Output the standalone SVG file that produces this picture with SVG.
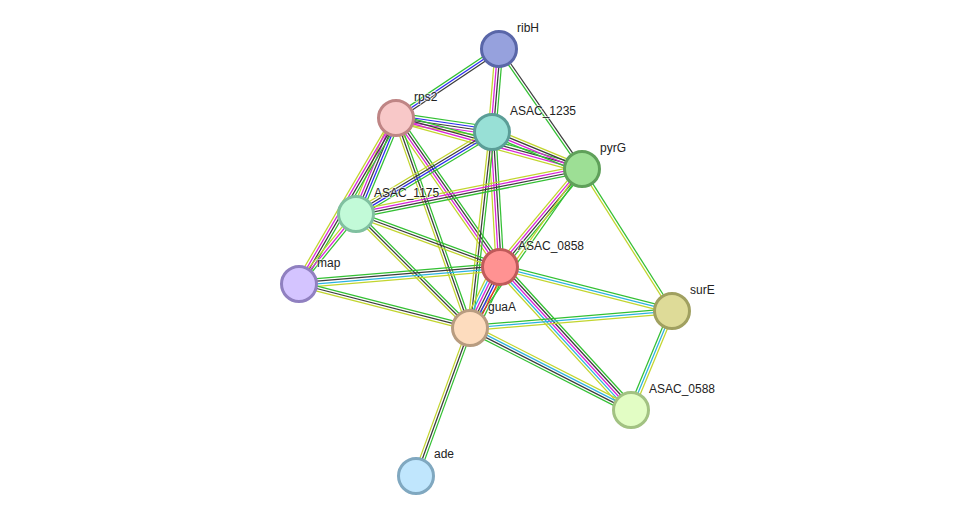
<svg xmlns="http://www.w3.org/2000/svg" width="975" height="521" viewBox="0 0 975 521">
<style>
line{stroke-width:1.25;fill:none;vector-effect:non-scaling-stroke}
.G{stroke:#33c033}.K{stroke:#3c3c3c}.Y{stroke:#c2d52e}.M{stroke:#d823d8}.B{stroke:#2a2af0}.C{stroke:#2cb2e0}.R{stroke:#e62222}
circle{stroke-width:3}
text{font-family:"Liberation Sans",Arial,sans-serif;font-size:12px;fill:#222;stroke:#fff;stroke-width:2;stroke-opacity:0.55;paint-order:stroke}
</style>
<rect width="975" height="521" fill="#fff"/>
<g id="edges">
<!-- ribH-rps2 -->
<g transform="translate(499 49) rotate(146.2) scale(1 1.15)"><line x2="124" y1="-2.2" y2="-2.2" class="K"/><line x2="124" class="B"/><line x2="124" y1="2.2" y2="2.2" class="G"/></g>
<!-- ribH-ASAC_1235 -->
<g transform="translate(499 49) rotate(94.8) scale(1 1.15)"><line x2="83.3" y1="-3.3" y2="-3.3" class="G"/><line x2="83.3" y1="-1.1" y2="-1.1" class="K"/><line x2="83.3" y1="1.1" y2="1.1" class="M"/><line x2="83.3" y1="3.3" y2="3.3" class="Y"/></g>
<!-- ribH-pyrG -->
<g transform="translate(499 49) rotate(55.3) scale(1 1.15)"><line x2="145.9" y1="-1.1" y2="-1.1" class="K"/><line x2="145.9" y1="1.1" y2="1.1" class="G"/></g>
<!-- rps2-ASAC_1235 -->
<g transform="translate(396 118) rotate(8.3) scale(1 1.15)"><line x2="97" y1="-4.4" y2="-4.4" class="G"/><line x2="97" y1="-2.2" y2="-2.2" class="B"/><line x2="97" class="K"/><line x2="97" y1="2.2" y2="2.2" class="M"/><line x2="97" y1="4.4" y2="4.4" class="Y"/></g>
<!-- rps2-pyrG -->
<g transform="translate(396 118) rotate(15.3) scale(1 1.15)"><line x2="192.9" y1="-3.3" y2="-3.3" class="G"/><line x2="192.9" y1="-1.1" y2="-1.1" class="K"/><line x2="192.9" y1="1.1" y2="1.1" class="M"/><line x2="192.9" y1="3.3" y2="3.3" class="Y"/></g>
<!-- rps2-ASAC_1175 -->
<g transform="translate(396 118) rotate(112.6) scale(1 1.15)"><line x2="104" y1="-4.4" y2="-4.4" class="G"/><line x2="104" y1="-2.2" y2="-2.2" class="B"/><line x2="104" class="K"/><line x2="104" y1="2.2" y2="2.2" class="M"/><line x2="104" y1="4.4" y2="4.4" class="Y"/></g>
<!-- rps2-map -->
<g transform="translate(396 118) rotate(120.3) scale(1 1.15)"><line x2="192.3" y1="-3.3" y2="-3.3" class="G"/><line x2="192.3" y1="-1.1" y2="-1.1" class="K"/><line x2="192.3" y1="1.1" y2="1.1" class="M"/><line x2="192.3" y1="3.3" y2="3.3" class="Y"/></g>
<!-- rps2-ASAC_0858 -->
<g transform="translate(396 118) rotate(55.1) scale(1 1.15)"><line x2="181.7" y1="-3.3" y2="-3.3" class="G"/><line x2="181.7" y1="-1.1" y2="-1.1" class="K"/><line x2="181.7" y1="1.1" y2="1.1" class="M"/><line x2="181.7" y1="3.3" y2="3.3" class="Y"/></g>
<!-- rps2-guaA -->
<g transform="translate(396 118) rotate(70.6) scale(1 1.15)"><line x2="222.7" y1="-2.2" y2="-2.2" class="G"/><line x2="222.7" class="K"/><line x2="222.7" y1="2.2" y2="2.2" class="Y"/></g>
<!-- ASAC_1235-ASAC_1175 -->
<g transform="translate(492 132) rotate(148.9) scale(1 1.15)"><line x2="158.8" y1="-3.3" y2="-3.3" class="G"/><line x2="158.8" y1="-1.1" y2="-1.1" class="B"/><line x2="158.8" y1="1.1" y2="1.1" class="K"/><line x2="158.8" y1="3.3" y2="3.3" class="Y"/></g>
<!-- ASAC_1235-pyrG -->
<g transform="translate(492 132) rotate(22.4) scale(1 1.15)"><line x2="97.3" y1="-3.3" y2="-3.3" class="Y"/><line x2="97.3" y1="-1.1" y2="-1.1" class="K"/><line x2="97.3" y1="1.1" y2="1.1" class="M"/><line x2="97.3" y1="3.3" y2="3.3" class="G"/></g>
<!-- ASAC_1235-ASAC_0858 -->
<g transform="translate(492 132) rotate(86.6) scale(1 1.15)"><line x2="135.2" y1="-3.3" y2="-3.3" class="G"/><line x2="135.2" y1="-1.1" y2="-1.1" class="K"/><line x2="135.2" y1="1.1" y2="1.1" class="M"/><line x2="135.2" y1="3.3" y2="3.3" class="Y"/></g>
<!-- ASAC_1235-guaA -->
<g transform="translate(492 132) rotate(96.4) scale(1 1.15)"><line x2="197.2" y1="-2.2" y2="-2.2" class="G"/><line x2="197.2" class="K"/><line x2="197.2" y1="2.2" y2="2.2" class="Y"/></g>
<!-- pyrG-ASAC_1175 -->
<g transform="translate(582 169) rotate(168.7) scale(1 1.15)"><line x2="230.4" y1="-3.3" y2="-3.3" class="G"/><line x2="230.4" y1="-1.1" y2="-1.1" class="K"/><line x2="230.4" y1="1.1" y2="1.1" class="M"/><line x2="230.4" y1="3.3" y2="3.3" class="Y"/></g>
<!-- pyrG-ASAC_0858 -->
<g transform="translate(582 169) rotate(129.9) scale(1 1.15)"><line x2="127.8" y1="-3.3" y2="-3.3" class="G"/><line x2="127.8" y1="-1.1" y2="-1.1" class="K"/><line x2="127.8" y1="1.1" y2="1.1" class="M"/><line x2="127.8" y1="3.3" y2="3.3" class="Y"/></g>
<!-- pyrG-guaA -->
<g transform="translate(582 169) rotate(125.2) scale(1 1.15)"><line x2="194.5" y1="-1.1" y2="-1.1" class="G"/><line x2="194.5" y1="1.1" y2="1.1" class="Y"/></g>
<!-- pyrG-surE -->
<g transform="translate(582 169) rotate(57.6) scale(1 1.15)"><line x2="168.1" y1="-1.1" y2="-1.1" class="G"/><line x2="168.1" y1="1.1" y2="1.1" class="Y"/></g>
<!-- ASAC_1175-map -->
<g transform="translate(356 214) rotate(129.2) scale(1 1.15)"><line x2="90.3" y1="-2.2" y2="-2.2" class="G"/><line x2="90.3" class="M"/><line x2="90.3" y1="2.2" y2="2.2" class="Y"/></g>
<!-- ASAC_1175-ASAC_0858 -->
<g transform="translate(356 214) rotate(20.2) scale(1 1.15)"><line x2="153.4" y1="-2.2" y2="-2.2" class="G"/><line x2="153.4" class="K"/><line x2="153.4" y1="2.2" y2="2.2" class="Y"/></g>
<!-- ASAC_1175-guaA -->
<g transform="translate(356 214) rotate(45) scale(1 1.15)"><line x2="161.2" y1="-2.2" y2="-2.2" class="G"/><line x2="161.2" class="K"/><line x2="161.2" y1="2.2" y2="2.2" class="Y"/></g>
<!-- map-ASAC_0858 -->
<g transform="translate(299 284) rotate(-4.8) scale(1 1.15)"><line x2="201.7" y1="-3.3" y2="-3.3" class="G"/><line x2="201.7" y1="-1.1" y2="-1.1" class="K"/><line x2="201.7" y1="1.1" y2="1.1" class="C"/><line x2="201.7" y1="3.3" y2="3.3" class="Y"/></g>
<!-- map-guaA -->
<g transform="translate(299 284) rotate(14.4) scale(1 1.15)"><line x2="176.6" y1="-2.2" y2="-2.2" class="G"/><line x2="176.6" class="K"/><line x2="176.6" y1="2.2" y2="2.2" class="Y"/></g>
<!-- ASAC_0858-guaA -->
<g transform="translate(500 267) rotate(116.2) scale(1 1.15)"><line x2="68" y1="-6.6" y2="-6.6" class="G"/><line x2="68" y1="-4.4" y2="-4.4" class="R"/><line x2="68" y1="-2.2" y2="-2.2" class="B"/><line x2="68" class="K"/><line x2="68" y1="2.2" y2="2.2" class="M"/><line x2="68" y1="4.4" y2="4.4" class="C"/><line x2="68" y1="6.6" y2="6.6" class="Y"/></g>
<!-- ASAC_0858-surE -->
<g transform="translate(500 267) rotate(14.3) scale(1 1.15)"><line x2="177.5" y1="-2.2" y2="-2.2" class="G"/><line x2="177.5" class="C"/><line x2="177.5" y1="2.2" y2="2.2" class="Y"/></g>
<!-- ASAC_0858-ASAC_0588 -->
<g transform="translate(500 267) rotate(47.5) scale(1 1.15)"><line x2="193.9" y1="-4.4" y2="-4.4" class="G"/><line x2="193.9" y1="-2.2" y2="-2.2" class="K"/><line x2="193.9" class="M"/><line x2="193.9" y1="2.2" y2="2.2" class="C"/><line x2="193.9" y1="4.4" y2="4.4" class="Y"/></g>
<!-- guaA-surE -->
<g transform="translate(470 328) rotate(-4.8) scale(1 1.15)"><line x2="202.7" y1="-2.2" y2="-2.2" class="G"/><line x2="202.7" class="C"/><line x2="202.7" y1="2.2" y2="2.2" class="Y"/></g>
<!-- guaA-ASAC_0588 -->
<g transform="translate(470 328) rotate(27) scale(1 1.15)"><line x2="180.7" y1="-3.3" y2="-3.3" class="Y"/><line x2="180.7" y1="-1.1" y2="-1.1" class="C"/><line x2="180.7" y1="1.1" y2="1.1" class="K"/><line x2="180.7" y1="3.3" y2="3.3" class="G"/></g>
<!-- guaA-ade -->
<g transform="translate(470 328) rotate(110) scale(1 1.15)"><line x2="157.5" y1="-2.2" y2="-2.2" class="G"/><line x2="157.5" class="K"/><line x2="157.5" y1="2.2" y2="2.2" class="Y"/></g>
<!-- surE-ASAC_0588 -->
<g transform="translate(672 311) rotate(112.5) scale(1 1.15)"><line x2="107.2" y1="-2.2" y2="-2.2" class="Y"/><line x2="107.2" class="C"/><line x2="107.2" y1="2.2" y2="2.2" class="G"/></g>
</g>
<g id="ribH"><circle cx="499" cy="49" r="17.5" fill="#96a1dd" stroke="#5966a8"/><text x="517" y="32">ribH</text></g>
<g id="rps2"><circle cx="396" cy="118" r="17.5" fill="#f8c8c8" stroke="#bf8585"/><text x="414" y="101">rps2</text></g>
<g id="ASAC_1235"><circle cx="492" cy="132" r="17.5" fill="#98e0d6" stroke="#5b9e97"/><text x="510" y="115">ASAC_1235</text></g>
<g id="pyrG"><circle cx="582" cy="169" r="17.5" fill="#9ddf95" stroke="#5fa05a"/><text x="600" y="152">pyrG</text></g>
<g id="ASAC_1175"><circle cx="356" cy="214" r="17.5" fill="#c2fad8" stroke="#80c0a0"/><text x="374" y="197">ASAC_1175</text></g>
<g id="ASAC_0858"><circle cx="500" cy="267" r="17.5" fill="#ff9292" stroke="#c05a5a"/><text x="518" y="250">ASAC_0858</text></g>
<g id="map"><circle cx="299" cy="284" r="17.5" fill="#d4c4ff" stroke="#9080c0"/><text x="317" y="267">map</text></g>
<g id="guaA"><circle cx="470" cy="328" r="17.5" fill="#fddcbe" stroke="#b89c80"/><text x="488" y="311">guaA</text></g>
<g id="surE"><circle cx="672" cy="311" r="17.5" fill="#dedb98" stroke="#a0a060"/><text x="690" y="294">surE</text></g>
<g id="ASAC_0588"><circle cx="631" cy="410" r="17.5" fill="#e2fdc4" stroke="#a2c282"/><text x="649" y="393">ASAC_0588</text></g>
<g id="ade"><circle cx="416" cy="476" r="17.5" fill="#c0e6fd" stroke="#80a8c0"/><text x="434" y="458">ade</text></g>
</svg>
